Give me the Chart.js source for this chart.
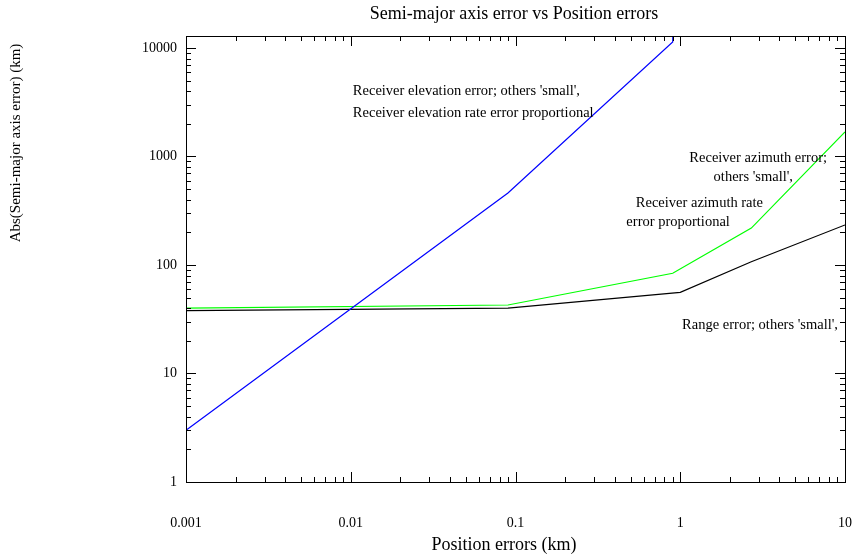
<!DOCTYPE html>
<html>
<head>
<meta charset="utf-8">
<script src="https://cdn.jsdelivr.net/npm/chart.js@4.4.7/dist/chart.umd.min.js"></script>
<style>
  html, body { margin: 0; padding: 0; background: #fff; }
  #wrap { width: 854px; height: 556px; position: relative; }
</style>
</head>
<body>
<div id="wrap"><canvas id="chart" width="854" height="556"></canvas></div>
<script>
// Position errors (km) and semi-major axis error (km)
const elevX = [0.001, 0.09, 0.9, 1.0];
const elevY = [3.0, 461, 11360, 1e7];
const azimX = [0.001, 0.09, 0.9, 2.7, 10];
const azimY = [40, 42.8, 84, 219, 1682];
const rangeX = [0.001, 0.09, 1.0, 2.7, 10];
const rangeY = [38, 40, 56, 107, 234];

const xTickLabels = ['0.001', '0.01', '0.1', '1', '10'];
const yTickLabels = ['1', '10', '100', '1000', '10000'];

const FONT = '"Liberation Serif", "DejaVu Serif", serif';

// text notes placed in data coordinates
const notes = [
  { x: 0.0103, y: 4016, text: "Receiver elevation error; others 'small',", align: 'left' },
  { x: 0.0103, y: 2518, text: 'Receiver elevation rate error proportional', align: 'left' },
  { x: 7.78, y: 969, text: 'Receiver azimuth error;', align: 'right' },
  { x: 4.83, y: 647, text: "others 'small',", align: 'right' },
  { x: 3.18, y: 373, text: 'Receiver azimuth rate', align: 'right' },
  { x: 2.0, y: 249, text: 'error proportional', align: 'right' },
  { x: 9.06, y: 28, text: "Range error; others 'small',", align: 'right' },
];

function pts(xs, ys) { return xs.map((x, i) => ({ x, y: ys[i] })); }

const boxPlugin = {
  id: 'box',
  afterDatasetsDraw(chart) {
    const { ctx, chartArea: a, scales } = chart;
    const xs = scales.x, ys = scales.y;
    ctx.save();
    ctx.strokeStyle = '#000';
    ctx.lineWidth = 1;
    ctx.strokeRect(a.left + 0.5, a.top + 0.5, a.right - a.left, a.bottom - a.top);
    ctx.beginPath();
    // x ticks, inward, bottom and top
    for (let d = -3; d <= 0; d++) {
      for (let m = 1; m <= 10; m++) {
        const v = m * Math.pow(10, d);
        if (v > xs.max * 1.0001) continue;
        const px = Math.round(xs.getPixelForValue(v)) + 0.5;
        const len = (m === 1 || m === 10) ? 10 : 5;
        ctx.moveTo(px, a.bottom); ctx.lineTo(px, a.bottom - len);
        ctx.moveTo(px, a.top); ctx.lineTo(px, a.top + len);
      }
    }
    // y ticks, inward, left and right
    for (let d = 0; d <= 4; d++) {
      for (let m = 1; m <= 9; m++) {
        const v = m * Math.pow(10, d);
        if (v > ys.max) continue;
        const py = Math.round(ys.getPixelForValue(v)) + 0.5;
        const len = m === 1 ? 10 : 5;
        ctx.moveTo(a.left, py); ctx.lineTo(a.left + len, py);
        ctx.moveTo(a.right, py); ctx.lineTo(a.right - len, py);
      }
    }
    ctx.stroke();

    // in-plot notes
    ctx.fillStyle = '#000';
    ctx.font = '14.5px ' + FONT;
    ctx.textBaseline = 'middle';
    notes.forEach(n => {
      ctx.textAlign = n.align;
      ctx.fillText(n.text, xs.getPixelForValue(n.x), ys.getPixelForValue(n.y));
    });

    // titles
    ctx.textAlign = 'center';
    ctx.font = '18px ' + FONT;
    ctx.fillText('Semi-major axis error vs Position errors', 514, 14);
    ctx.fillText('Position errors (km)', 504, 545);
    ctx.translate(16, 143);
    ctx.rotate(-Math.PI / 2);
    ctx.font = '15px ' + FONT;
    ctx.fillText('Abs(Semi-major axis error) (km)', 0, 0);
    ctx.restore();
  }
};

new Chart(document.getElementById('chart'), {
  type: 'line',
  data: {
    datasets: [
      { label: 'elevation', data: pts(elevX, elevY), borderColor: '#0000ff' },
      { label: 'azimuth', data: pts(azimX, azimY), borderColor: '#00ff00' },
      { label: 'range', data: pts(rangeX, rangeY), borderColor: '#000000' },
    ].map(d => Object.assign(d, { borderWidth: 1.2, pointRadius: 0, fill: false, tension: 0 })),
  },
  options: {
    responsive: false,
    animation: false,
    layout: { padding: { top: 36, right: 9, left: 0, bottom: 0 } },
    plugins: { legend: { display: false }, tooltip: { enabled: false } },
    scales: {
      x: {
        type: 'logarithmic',
        min: 0.001,
        max: 10,
        grid: { display: false, drawTicks: false },
        border: { display: false },
        afterFit(s) { s.height = 556 - 482; s.paddingLeft = 0; s.paddingRight = 0; },
        ticks: {
          autoSkip: false,
          maxRotation: 0,
          padding: 33,
          color: '#000',
          font: { family: FONT, size: 14 },
          callback(v) {
            const i = xTickLabels.findIndex(t => Math.abs(parseFloat(t) - v) < 1e-9);
            return i >= 0 ? xTickLabels[i] : '';
          },
        },
      },
      y: {
        type: 'logarithmic',
        min: 1,
        max: 12900,
        grid: { display: false, drawTicks: false },
        border: { display: false },
        afterFit(s) { s.width = 186; },
        ticks: {
          autoSkip: false,
          padding: 9,
          color: '#000',
          font: { family: FONT, size: 14 },
          callback(v) {
            const i = yTickLabels.findIndex(t => Math.abs(parseFloat(t) - v) < 1e-6);
            return i >= 0 ? yTickLabels[i] : '';
          },
        },
      },
    },
  },
  plugins: [boxPlugin],
});
</script>
</body>
</html>
